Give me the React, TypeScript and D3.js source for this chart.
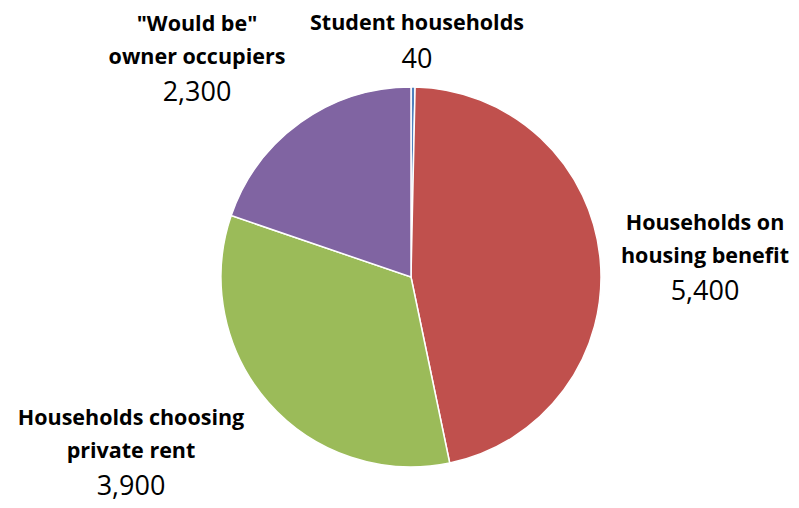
import React from "react";
import * as d3 from "d3";

const categories = ["Student households", "Households on housing benefit", "Households choosing private rent", "\"Would be\" owner occupiers"];
const values = [40, 5400, 3900, 2300];
const colors = ["#4F81BD", "#C0504D", "#9BBB59", "#8064A2"];
const labelLines = [["Student households"], ["Households on", "housing benefit"], ["Households choosing", "private rent"], ["\"Would be\"", "owner occupiers"]];
const valueLabels = ["40", "5,400", "3,900", "2,300"];
// label anchor (center x, first baseline y)
const labelPos: [number, number][] = [[417, 30], [705, 230], [131, 425], [197, 31]];

export default function App() {
  const W = 799, H = 508;
  const cx = 411, cy = 277, r = 190;
  const pie = d3.pie<number>().sort(null).value((d) => d)(values);
  const arc = d3.arc<d3.PieArcDatum<number>>().innerRadius(0).outerRadius(r);
  const font = "'Open Sans', sans-serif";
  return (
    <svg width={W} height={H} style={{ position: "absolute", left: 0, top: 0, background: "#fff" }}>
      <g transform={`translate(${cx},${cy})`}>
        {pie.map((p, i) => (
          <path key={i} d={arc(p) || ""} fill={colors[i]} stroke="#fff" strokeWidth={1.5} />
        ))}
      </g>
      {categories.map((c, i) => {
        const [x, y] = labelPos[i];
        const lines = labelLines[i];
        return (
          <g key={c}>
            {lines.map((l, j) => (
              <text key={j} x={x} y={y + j * 32.5} textAnchor="middle" fontFamily={font} fontWeight="bold" fontSize={21.5} fill="#000">{l}</text>
            ))}
            <text x={x} y={y + (lines.length - 1) * 32.5 + 37.5} textAnchor="middle" fontFamily={font} fontSize={27} fill="#000">{valueLabels[i]}</text>
          </g>
        );
      })}
    </svg>
  );
}
